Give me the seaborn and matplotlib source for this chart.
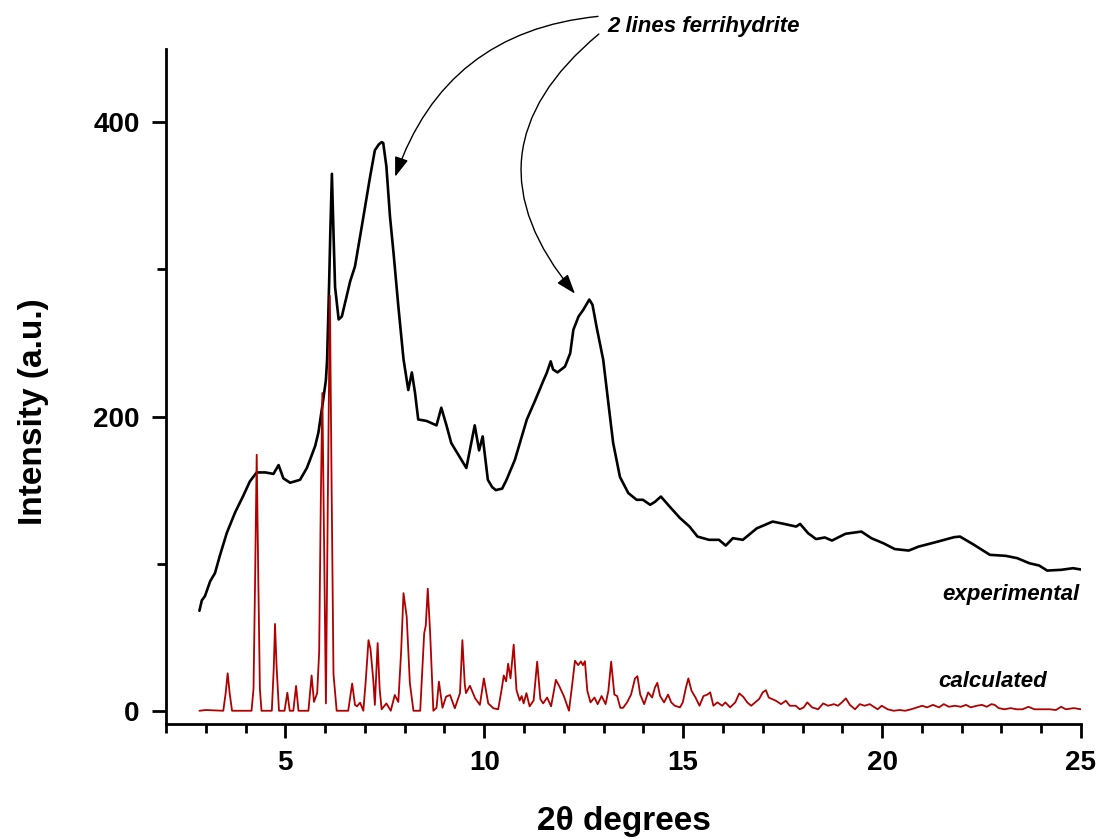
import matplotlib
matplotlib.use("Agg")
import matplotlib.pyplot as plt
import seaborn as sns
import pandas as pd
from matplotlib.ticker import MultipleLocator

# Experimental powder pattern (2-theta in degrees, intensity in a.u.)
exp_x = [2.84, 2.90, 2.98, 3.11, 3.23, 3.36, 3.53, 3.74, 3.94, 4.11, 4.28, 4.50, 4.70,
         4.83, 4.95, 5.12, 5.37, 5.54, 5.62, 5.75, 5.83, 5.95, 6.02, 6.05, 6.10, 6.13,
         6.17, 6.21, 6.25, 6.34, 6.42, 6.63, 6.75, 6.92, 7.13, 7.25, 7.35, 7.42, 7.46,
         7.54, 7.63, 7.72, 7.84, 7.97, 8.09, 8.18, 8.26, 8.34, 8.55, 8.80, 8.92, 9.05,
         9.17, 9.55, 9.76, 9.87, 9.96, 10.09, 10.20, 10.29, 10.45, 10.56, 10.77, 11.07,
         11.28, 11.48, 11.57, 11.67, 11.73, 11.84, 12.03, 12.16, 12.24, 12.37, 12.49,
         12.64, 12.72, 12.83, 12.99, 13.12, 13.24, 13.41, 13.62, 13.83, 13.99, 14.17,
         14.29, 14.44, 14.66, 14.92, 15.16, 15.36, 15.65, 15.90, 16.07, 16.25, 16.50,
         16.85, 17.25, 17.54, 17.84, 17.94, 18.14, 18.34, 18.56, 18.74, 19.08, 19.48,
         19.73, 20.03, 20.32, 20.67, 20.92, 21.32, 21.81, 21.96, 22.31, 22.71, 23.11,
         23.40, 23.70, 23.95, 24.15, 24.50, 24.80, 25.00]
exp_y = [68, 75, 78, 88, 93.5, 106, 121, 135, 146, 156, 162, 162, 161,
         167, 158, 155, 157, 165, 170.6, 180, 189, 211, 225, 239, 290, 325,
         365, 325, 288, 266, 268, 292, 302, 329, 363, 381, 385, 386.5, 386,
         370, 336, 311, 275, 239, 218, 230, 216, 198, 197, 194, 206, 194,
         182, 165, 194, 177, 186.5, 157, 152, 150, 151, 157, 170.6, 198,
         211, 224, 229.6, 237.5, 232, 230, 234, 243, 259, 268, 272.6,
         279.5, 276, 260, 238.6, 209, 182, 159, 148, 143.4, 143.4, 140,
         142, 145.6, 138.8, 131, 125.2, 118.4, 116.2, 116.2, 112.3, 117.3, 116.2,
         124, 128.6, 127, 125.2, 127, 120.7, 116.7, 117.8, 115.7, 120.3, 121.8,
         117.3, 113.9, 109.9, 108.9, 111.6, 114.4, 118, 118.4, 112.8, 106, 105.3,
         103.7, 100.3, 98.7, 95.3, 95.8, 96.9, 96]

# Calculated pattern
calc_x = [2.84, 3.00, 3.44, 3.50, 3.55, 3.60, 3.66, 4.15, 4.20, 4.24, 4.28, 4.32, 4.36,
          4.40, 4.66, 4.71, 4.74, 4.78, 4.84, 4.98, 5.05, 5.11, 5.20, 5.27, 5.33, 5.58,
          5.66, 5.72, 5.80, 5.85, 5.89, 5.93, 5.97, 6.02, 6.07, 6.12, 6.16, 6.21, 6.29,
          6.58, 6.68, 6.75, 6.80, 6.88, 6.96, 7.02, 7.09, 7.14, 7.21, 7.25, 7.32, 7.37,
          7.42, 7.54, 7.65, 7.75, 7.84, 7.91, 7.97, 8.05, 8.13, 8.22, 8.39, 8.49, 8.53,
          8.58, 8.64, 8.72, 8.80, 8.86, 8.95, 9.04, 9.14, 9.26, 9.39, 9.45, 9.51, 9.54,
          9.64, 9.77, 9.89, 9.99, 10.10, 10.23, 10.35, 10.44, 10.49, 10.55, 10.60, 10.66,
          10.74, 10.81, 10.89, 10.94, 10.99, 11.06, 11.14, 11.24, 11.33, 11.41, 11.48,
          11.58, 11.68, 11.80, 11.88, 12.00, 12.13, 12.22, 12.28, 12.36, 12.43, 12.48,
          12.53, 12.59, 12.67, 12.77, 12.85, 12.95, 13.05, 13.12, 13.19, 13.27, 13.34,
          13.42, 13.49, 13.59, 13.69, 13.79, 13.85, 13.92, 14.02, 14.12, 14.22, 14.29,
          14.35, 14.42, 14.52, 14.62, 14.70, 14.79, 14.92, 14.99, 15.07, 15.13, 15.21,
          15.31, 15.41, 15.51, 15.61, 15.68, 15.76, 15.86, 15.98, 16.06, 16.18, 16.31,
          16.41, 16.51, 16.61, 16.71, 16.81, 16.91, 17.00, 17.08, 17.15, 17.23, 17.33,
          17.46, 17.58, 17.68, 17.83, 17.93, 18.03, 18.12, 18.24, 18.39, 18.52, 18.64,
          18.79, 18.89, 18.99, 19.09, 19.19, 19.32, 19.44, 19.56, 19.69, 19.79, 19.89,
          19.99, 20.14, 20.29, 20.44, 20.58, 20.73, 20.88, 21.01, 21.13, 21.28, 21.43,
          21.55, 21.68, 21.83, 21.98, 22.11, 22.23, 22.38, 22.51, 22.63, 22.75, 22.83,
          22.93, 23.08, 23.23, 23.38, 23.53, 23.68, 23.83, 24.02, 24.22, 24.37, 24.50,
          24.62, 24.82, 25.00]
calc_y = [0, 0.5, 0, 12, 25.5, 12, 0, 0, 15, 90, 174, 90, 15,
          0, 0, 30, 59, 30, 0, 0, 12.3, 0, 0, 16.9, 0, 0,
          24, 6, 12, 40, 140, 216, 120, 5, 150, 282, 160, 25, 0,
          0, 18.5, 4, 3, 5.5, 0, 20, 48, 42, 21, 4, 46, 15,
          1, 5, 0, 10.7, 6, 40, 80, 64, 18.7, 0, 0, 52.7, 58,
          83, 52.7, 0, 2, 19.8, 2, 9.6, 10.7, 1.7, 12, 48, 18, 12,
          17, 8.5, 4, 22, 5, 1.7, 1, 15, 24, 20, 32, 22,
          45, 14, 7, 10, 5, 12, 3, 7, 33.4, 8, 5,
          9, 3, 21, 17, 10, 0, 20, 34, 31, 33.5, 31,
          33.7, 13.6, 5.7, 9, 4.5, 10, 4.5, 13.6, 33.4, 11, 10,
          2, 2, 5.7, 11, 22, 23.5, 11, 4.5, 12.5, 9, 15.8,
          19, 10, 5.7, 11, 5.7, 3.4, 2.3, 5.7, 15.8, 22, 13.6,
          9, 3.4, 10, 11, 12.5, 3.4, 5.7, 3.4, 5.7, 2.3, 5.7,
          11.8, 9.5, 5.7, 3.4, 5.7, 8, 12.5, 14, 9, 8, 6.8,
          4.5, 6.8, 3.4, 3.4, 1, 2.3, 5.7, 2.3, 1, 5, 3.4,
          4.5, 3.4, 5.7, 8.4, 4, 1, 4.5, 3.4, 4.5, 2.7, 1,
          3.4, 1, 0, 0.5, 0, 1, 2.3, 3.4, 2.3, 4, 2.3,
          4.5, 2.7, 3.4, 2.7, 4, 2.3, 3.4, 4, 2.7, 4.5, 4,
          1.8, 1, 1.8, 1, 1, 2.7, 1, 1, 1, 0.5, 2.7,
          1, 1.8, 1]

exp_df = pd.DataFrame({"two_theta": exp_x, "intensity": exp_y})
calc_df = pd.DataFrame({"two_theta": calc_x, "intensity": calc_y})

sns.set_theme(style="ticks")
plt.rcParams["font.family"] = ["Liberation Sans", "DejaVu Sans"]
plt.rcParams["font.weight"] = "bold"
plt.rcParams["text.color"] = "black"
plt.rcParams["axes.labelcolor"] = "black"
plt.rcParams["xtick.color"] = "black"
plt.rcParams["ytick.color"] = "black"

fig = plt.figure(figsize=(11.01, 8.39), dpi=100)
W, H = 1101, 839
ax = fig.add_axes([166 / W, 1 - 724 / H, (1081 - 166) / W, (724 - 48.75) / H])

sns.lineplot(data=exp_df, x="two_theta", y="intensity", ax=ax, color="black",
             linewidth=1.9, sort=False, estimator=None)
sns.lineplot(data=calc_df, x="two_theta", y="intensity", ax=ax, color="#b00000",
             linewidth=1.3, sort=False, estimator=None)

ax.set_xlim(2, 25)
ax.set_ylim(-9, 450)
ax.xaxis.set_major_locator(MultipleLocator(5))
ax.xaxis.set_minor_locator(MultipleLocator(1))
ax.yaxis.set_major_locator(MultipleLocator(200))
ax.yaxis.set_minor_locator(MultipleLocator(100))

for side in ("top", "right"):
    ax.spines[side].set_visible(False)
for side in ("left", "bottom"):
    ax.spines[side].set_linewidth(2.0)
    ax.spines[side].set_color("black")

ax.tick_params(which="major", length=10, width=2.0, color="black",
               labelsize=20, pad=9, direction="out", labelcolor="black")
ax.tick_params(which="minor", length=6.5, width=2.0, color="black", direction="out")
for lbl in ax.get_xticklabels() + ax.get_yticklabels():
    lbl.set_fontweight("bold")

ax.set_xlabel("2θ degrees", fontsize=24, fontweight="bold", color="black")
ax.set_ylabel("Intensity (a.u.)", fontsize=24, fontweight="bold", color="black")
ax.xaxis.set_label_coords(0.5, -0.122)
ax.yaxis.set_label_coords(-0.128, 0.462)

# Series labels
ax.text(24.95, 79, "experimental", fontsize=16, fontweight="bold", style="italic",
        ha="right", va="center", color="black")
ax.text(24.15, 20, "calculated", fontsize=16, fontweight="bold", style="italic",
        ha="right", va="center", color="black")

# Ferrihydrite annotation with two curved arrows
ax.text(13.09, 465, "2 lines ferrihydrite", fontsize=16, fontweight="bold",
        style="italic", ha="left", va="center", clip_on=False, color="black")
arrow_kw = dict(arrowstyle="-|>,head_length=0.8,head_width=0.28", color="black",
                lw=1.0, mutation_scale=15, shrinkA=0, shrinkB=0)
ax.annotate("", xy=(7.76, 363), xytext=(12.86, 472), annotation_clip=False,
            arrowprops=dict(connectionstyle="arc3,rad=0.32", **arrow_kw))
ax.annotate("", xy=(12.28, 283.5), xytext=(12.88, 460), annotation_clip=False,
            arrowprops=dict(connectionstyle="arc3,rad=0.5", **arrow_kw))

fig.savefig("out.png", dpi=100)
